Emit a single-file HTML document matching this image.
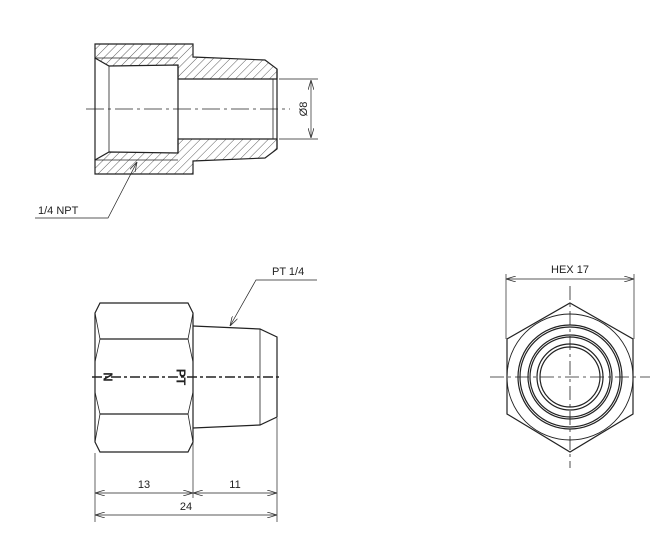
<!DOCTYPE html>
<html><head><meta charset="utf-8"><style>
html,body{margin:0;padding:0;background:#fff}
svg{display:block}
text{font-family:"Liberation Sans",sans-serif;font-size:11px;fill:#222}
</style></head><body>
<svg width="659" height="540" viewBox="0 0 659 540" xmlns="http://www.w3.org/2000/svg">
<defs>
<pattern id="h" width="6" height="6" patternUnits="userSpaceOnUse" patternTransform="rotate(45)">
<line x1="0" y1="0" x2="0" y2="6" stroke="#333" stroke-width="0.8"/>
</pattern>
<marker id="a" markerWidth="10" markerHeight="6" refX="10" refY="3" orient="auto-start-reverse" markerUnits="userSpaceOnUse">
<path d="M0,0 L10,3 L0,6" fill="none" stroke="#333" stroke-width="0.8"/>
</marker>
</defs>
<g stroke="#222" stroke-width="1.2" fill="none">
<path d="M95,44 H193 V57 L265,60 L277,69 V79 H178 V65 L109,66 L95,58 Z" fill="url(#h)"/>
<path d="M95,174 H193 V161 L265,158 L277,149 V139 H178 V153 L109,152 L95,160 Z" fill="url(#h)"/>
<line x1="95" y1="58" x2="178" y2="58" stroke-width="0.8"/>
<line x1="95" y1="160" x2="178" y2="160" stroke-width="0.8"/>
<line x1="109" y1="66" x2="109" y2="152" stroke-width="0.8"/>
<line x1="95" y1="58" x2="95" y2="160"/>
<line x1="178" y1="65" x2="178" y2="153"/>
<line x1="277" y1="69" x2="277" y2="149"/>
<line x1="273" y1="79" x2="273" y2="139" stroke-width="0.8"/>
<line x1="86" y1="109" x2="290" y2="109" stroke-width="0.8" stroke-dasharray="18,4,3,4"/>
<line x1="279" y1="79" x2="318" y2="79" stroke-width="0.7"/>
<line x1="279" y1="139" x2="318" y2="139" stroke-width="0.7"/>
<line x1="311" y1="80" x2="311" y2="138" stroke-width="0.7" marker-start="url(#a)" marker-end="url(#a)"/>
<polyline points="137,162 108,218 35,218" stroke-width="0.7" marker-start="url(#a)"/>

<path d="M100,303 H188 L193,313 V442 L188,452 H100 L95,442 V313 Z"/>
<path d="M95,313 L100,339 L95,362 M95,392 L100,414 L95,442" stroke-width="0.8"/>
<path d="M193,313 L188,339 L193,362 M193,392 L188,414 L193,442" stroke-width="0.8"/>
<line x1="100" y1="339" x2="188" y2="339"/>
<line x1="100" y1="414" x2="188" y2="414"/>
<path d="M193,326 L260,329 L277,337 V417 L260,425 L193,428"/>
<line x1="260" y1="329" x2="260" y2="425" stroke-width="0.8"/>
<line x1="92" y1="377" x2="280" y2="377" stroke-width="1.5" stroke-dasharray="10,3,3,3"/>
<polyline points="230,326 256,280 317,280" stroke-width="0.7" marker-start="url(#a)"/>
<line x1="95" y1="453" x2="95" y2="522" stroke-width="0.7"/>
<line x1="193" y1="429" x2="193" y2="498" stroke-width="0.7"/>
<line x1="277" y1="418" x2="277" y2="522" stroke-width="0.7"/>
<line x1="95" y1="493" x2="193" y2="493" stroke-width="0.7" marker-start="url(#a)" marker-end="url(#a)"/>
<line x1="193" y1="493" x2="277" y2="493" stroke-width="0.7" marker-start="url(#a)" marker-end="url(#a)"/>
<line x1="95" y1="515" x2="277" y2="515" stroke-width="0.7" marker-start="url(#a)" marker-end="url(#a)"/>

<polygon points="570,303 633,339 633,414 570,452 507,414 507,339"/>
<circle cx="570" cy="377" r="63" stroke-width="0.9"/>
<circle cx="570" cy="377" r="52"/>
<circle cx="570" cy="377" r="50"/>
<circle cx="570" cy="377" r="42"/>
<circle cx="570" cy="377" r="40"/>
<circle cx="570" cy="377" r="33"/>
<circle cx="570" cy="377" r="30"/>
<line x1="490" y1="377" x2="650" y2="377" stroke-width="0.8" stroke-dasharray="14,4,3,4"/>
<line x1="570" y1="286" x2="570" y2="468" stroke-width="0.8" stroke-dasharray="14,4,3,4"/>
<line x1="506" y1="274" x2="506" y2="339" stroke-width="0.7"/>
<line x1="634" y1="274" x2="634" y2="339" stroke-width="0.7"/>
<line x1="506" y1="279" x2="634" y2="279" stroke-width="0.7" marker-start="url(#a)" marker-end="url(#a)"/>
</g>
<text x="304" y="109" transform="rotate(-90 304 109)" text-anchor="middle" dominant-baseline="middle">Ø8</text>
<text x="38" y="214">1/4 NPT</text>
<text x="272" y="275">PT 1/4</text>
<text x="144" y="488" text-anchor="middle">13</text>
<text x="235" y="488" text-anchor="middle">11</text>
<text x="186" y="510" text-anchor="middle">24</text>
<text x="570" y="273" text-anchor="middle">HEX 17</text>
<text x="107" y="377" transform="rotate(90 107 377)" text-anchor="middle" dominant-baseline="middle" style="font-weight:bold;font-size:13px">N</text>
<text x="180" y="377" transform="rotate(90 180 377)" text-anchor="middle" dominant-baseline="middle" style="font-weight:bold;font-size:13px">PT</text>
</svg>
</body></html>
